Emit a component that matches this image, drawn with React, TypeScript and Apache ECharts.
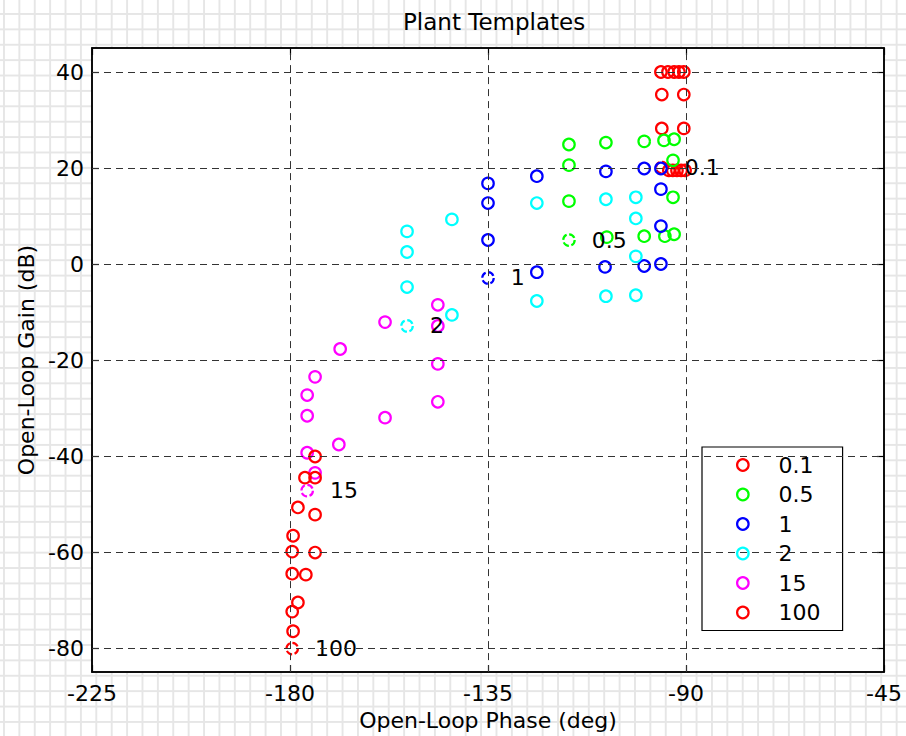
import React, { useEffect, useRef } from "react";
import * as echarts from "echarts";

const FONT = "DejaVu Sans";

// Template names and colours
const templateNames = ["0.1", "0.5", "1", "2", "15", "100"];
const templateColors = ["#ff0000", "#00ff00", "#0000ff", "#00ffff", "#ff00ff", "#ff0000"];

// Each template: first point is the nominal plant (dashed circle + label)
const phase01 = [-95.5, -93.9, -93.0, -92.05, -91.1, -90.2, -95.5, -90.5, -95.5, -90.5, -95.7, -94.1, -92.7, -91.6, -90.5];
const gain01 = [20.1, 19.5, 19.5, 19.5, 19.5, 19.5, 35.3, 35.3, 28.25, 28.25, 40, 40, 40, 40, 40];

const phase05 = [-116.6, -116.6, -116.6, -116.6, -108.2, -99.5, -95.0, -92.7, -92.95, -92.95, -92.7, -94.8, -99.5, -108.0];
const gain05 = [5.0, 13.1, 20.6, 24.9, 25.3, 25.55, 25.75, 26.0, 21.6, 13.9, 6.2, 5.8, 5.8, 5.6];

const phase1 = [-135, -135, -135, -135, -123.9, -108.2, -99.5, -95.7, -95.7, -95.7, -95.7, -99.5, -108.4, -123.9];
const gain1 = [-2.9, 5.0, 12.7, 16.8, 18.3, 19.3, 19.9, 19.9, 15.6, 7.9, 0.0, -0.4, -0.6, -1.7];

const phase2 = [-153.4, -153.4, -153.4, -153.4, -143.2, -123.9, -108.2, -101.4, -101.4, -101.4, -101.4, -108.2, -123.9, -143.2];
const gain2 = [-12.9, -4.8, 2.5, 6.8, 9.3, 12.7, 13.5, 13.9, 9.5, 1.6, -6.5, -6.7, -7.7, -10.6];

const phase15 = [-176.1, -176.1, -176.1, -176.1, -174.3, -168.6, -158.4, -146.4, -146.4, -146.4, -146.4, -158.4, -168.9, -174.3];
const gain15 = [-47.2, -39.3, -31.6, -27.3, -23.5, -17.7, -12.1, -8.5, -12.9, -20.8, -28.7, -32.0, -37.6, -43.5];

const phase100 = [-179.5, -179.3, -179.5, -178.2, -176.4, -174.3, -174.3, -174.3, -174.3, -176.6, -178.2, -179.3, -179.5, -179.5];
const gain100 = [-80.1, -76.5, -72.4, -70.5, -64.7, -60.1, -52.2, -44.5, -40.1, -44.5, -50.7, -56.6, -59.9, -64.5];

const templatePhases = [phase01, phase05, phase1, phase2, phase15, phase100];
const templateGains = [gain01, gain05, gain1, gain2, gain15, gain100];

// Axes
const xMin = -225;
const xMax = -45;
const xStep = 45;
const yMin = -85;
const yMax = 45;
const yTicks = [-80, -60, -40, -20, 0, 20, 40];
const xGridLines = [-180, -135, -90];

export default function App() {
  const ref = useRef<HTMLDivElement>(null);

  useEffect(() => {
    if (!ref.current) return;
    const chart = echarts.init(ref.current, undefined, { renderer: "svg" });

    const symbolSize = 11.5;

    const templateSeries = templateNames.map((name, k) => ({
      type: "scatter",
      name,
      xAxisIndex: 0,
      yAxisIndex: 0,
      symbol: "circle",
      symbolSize,
      silent: true,
      emphasis: { disabled: true },
      itemStyle: { color: "rgba(0,0,0,0)", borderColor: templateColors[k], borderWidth: 2.2, opacity: 1 },
      z: 3,
      data: templatePhases[k].map((p, i) =>
        i === 0
          ? {
              value: [p, templateGains[k][i]],
              itemStyle: {
                color: "rgba(0,0,0,0)",
                borderColor: templateColors[k],
                borderWidth: 2.2,
                opacity: 1,
                borderType: [6.5, 2.5],
                borderDashOffset: 1.2,
              },
              label: {
                show: true,
                position: "right",
                distance: 16,
                formatter: name,
                color: "#000",
                opacity: 1,
                fontSize: 22,
                fontFamily: FONT,
              },
            }
          : [p, templateGains[k][i]]
      ),
    }));

    const gridSeries = {
      type: "scatter",
      name: "__grid",
      xAxisIndex: 0,
      yAxisIndex: 0,
      symbol: "none",
      symbolSize: 0,
      silent: true,
      z: 1,
      data: [[xMin, yMin]],
      markLine: {
        silent: true,
        symbol: "none",
        animation: false,
        label: { show: false },
        lineStyle: { color: "#333333", type: [7, 5], width: 1, opacity: 1 },
        data: [
          ...yTicks.map((v) => ({ yAxis: v })),
          ...xGridLines.map((v) => ({ xAxis: v })),
        ],
      },
    };

    const axisLabelStyle = { color: "#000", fontSize: 22, fontFamily: FONT };
    const lineStyle = { color: "#000", width: 1.5 };
    const tickStyle = { color: "#000", width: 1.2 };

    chart.setOption({
      animation: false,
      backgroundColor: "transparent",
      title: {
        text: "Plant Templates",
        left: 398,
        top: 5,
        textStyle: { color: "#000", fontSize: 23, fontWeight: "normal", fontFamily: FONT },
      },
      grid: {
        left: 92,
        top: 48,
        right: 22,
        bottom: 62,
        show: true,
        backgroundColor: "#ffffff",
        borderColor: "#000",
        borderWidth: 1.5,
      },
      xAxis: [
        {
          type: "value",
          min: xMin,
          max: xMax,
          interval: xStep,
          position: "bottom",
          name: "Open-Loop Phase (deg)",
          nameLocation: "middle",
          nameGap: 36,
          nameTextStyle: { color: "#000", fontSize: 22, fontFamily: FONT },
          axisLine: { show: true, onZero: false, lineStyle },
          axisTick: { show: true, inside: true, length: 7, lineStyle: tickStyle },
          axisLabel: { ...axisLabelStyle, margin: 10 },
          splitLine: { show: false },
        },
        {
          type: "value",
          min: xMin,
          max: xMax,
          interval: xStep,
          position: "top",
          axisLine: { show: true, onZero: false, lineStyle },
          axisTick: { show: true, inside: true, length: 7, lineStyle: tickStyle },
          axisLabel: { show: false },
          splitLine: { show: false },
        },
      ],
      yAxis: [
        {
          type: "value",
          min: yMin,
          max: yMax,
          position: "left",
          name: "Open-Loop Gain (dB)",
          nameLocation: "middle",
          nameGap: 50,
          nameTextStyle: { color: "#000", fontSize: 22, fontFamily: FONT },
          axisLine: { show: true, onZero: false, lineStyle },
          axisTick: { show: true, inside: true, length: 7, customValues: yTicks, lineStyle: tickStyle },
          axisLabel: { ...axisLabelStyle, margin: 8, customValues: yTicks },
          splitLine: { show: false },
        },
        {
          type: "value",
          min: yMin,
          max: yMax,
          position: "right",
          axisLine: { show: true, onZero: false, lineStyle },
          axisTick: { show: true, inside: true, length: 7, customValues: yTicks, lineStyle: tickStyle },
          axisLabel: { show: false, customValues: yTicks },
          splitLine: { show: false },
        },
      ],
      legend: {
        orient: "vertical",
        left: 702,
        top: 447,
        padding: [7, 22, 7, 34],
        itemGap: 7.5,
        itemWidth: 11.5,
        itemHeight: 11.5,
        backgroundColor: "#ffffff",
        borderColor: "#000",
        borderWidth: 1.2,
        borderRadius: 0,
        selectedMode: false,
        textStyle: { color: "#000", fontSize: 22, fontFamily: FONT, padding: [0, 0, 0, 25] },
        data: templateNames.map((n, k) => ({
          name: n,
          icon: "circle",
          itemStyle: { color: "rgba(0,0,0,0)", borderColor: templateColors[k], borderWidth: 2.2, opacity: 1 },
        })),
      },
      series: [gridSeries, ...templateSeries],
    });

    return () => chart.dispose();
  }, []);

  return (
    <div
      style={{
        position: "absolute",
        left: 0,
        top: 0,
        width: 906,
        height: 736,
        backgroundColor: "#ffffff",
        backgroundImage:
          "linear-gradient(to right, #e6e6e6 1.5px, transparent 1.5px), linear-gradient(to bottom, #e6e6e6 1.5px, transparent 1.5px)",
        backgroundSize: "15.4px 15.4px",
        backgroundPosition: "3px 13px",
      }}
    >
      <div ref={ref} style={{ width: 906, height: 736 }} />
    </div>
  );
}
